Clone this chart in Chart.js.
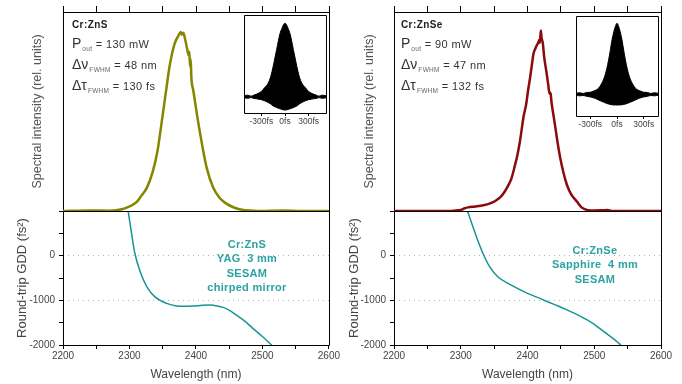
<!DOCTYPE html>
<html>
<head>
<meta charset="utf-8">
<script src="https://cdn.jsdelivr.net/npm/chart.js@4.4.0/dist/chart.umd.min.js"></script>
<style>
  body { margin: 0; background: #fff; }
  #fig { position: relative; width: 682px; height: 384px; overflow: hidden;
         font-family: "Liberation Sans", Arial, sans-serif; }
  canvas { position: absolute; }
  .tag { position: absolute; font-size: 10px; line-height: 10px; font-weight: bold; color: #222; letter-spacing: 0.4px; z-index: 5; }
  .row { position: absolute; font-size: 14px; line-height: 14px; color: #333; white-space: nowrap; z-index: 5; }
  .row .big { font-size: 14px; }
  .row .sub { font-size: 6.5px; position: relative; top: 3px; margin-left: 1px; color: #666; letter-spacing: 0.3px; }
  .row .val { font-size: 11px; letter-spacing: 0.4px; }
  .gdd { position: absolute; transform: translateX(-50%); text-align: center; white-space: nowrap;
         font-size: 11px; font-weight: bold; line-height: 14.3px; color: #2ba3a3; letter-spacing: 0.3px; z-index: 5; }
</style>
</head>
<body>
<div id="fig">
  <canvas id="gdd-zns" width="341" height="184" style="left:0;top:200px;z-index:1"></canvas>
  <canvas id="spec-zns" width="341" height="215" style="left:0;top:0;z-index:2"></canvas>
  <canvas id="ac-zns" width="94" height="124" style="left:238px;top:10px;z-index:3"></canvas>

  <canvas id="gdd-znse" width="341" height="184" style="left:341px;top:200px;z-index:1"></canvas>
  <canvas id="spec-znse" width="341" height="215" style="left:341px;top:0;z-index:2"></canvas>
  <canvas id="ac-znse" width="94" height="127" style="left:570px;top:10px;z-index:3"></canvas>

  <div class="tag" style="left:72px;top:20px">Cr:ZnS</div>
  <div class="row" style="left:72px;top:36px"><span class="big">P</span><span class="sub">out</span><span class="val"> = 130 mW</span></div>
  <div class="row" style="left:72px;top:57px"><span class="big">&Delta;&nu;</span><span class="sub">FWHM</span><span class="val"> = 48 nm</span></div>
  <div class="row" style="left:72px;top:78px"><span class="big">&Delta;&tau;</span><span class="sub">FWHM</span><span class="val"> = 130 fs</span></div>
  <div class="gdd" style="left:247px;top:237px">Cr:ZnS<br>YAG&nbsp; 3 mm<br>SESAM<br>chirped mirror</div>

  <div class="tag" style="left:401px;top:20px">Cr:ZnSe</div>
  <div class="row" style="left:401px;top:36px"><span class="big">P</span><span class="sub">out</span><span class="val"> = 90 mW</span></div>
  <div class="row" style="left:401px;top:57px"><span class="big">&Delta;&nu;</span><span class="sub">FWHM</span><span class="val"> = 47 nm</span></div>
  <div class="row" style="left:401px;top:78px"><span class="big">&Delta;&tau;</span><span class="sub">FWHM</span><span class="val"> = 132 fs</span></div>
  <div class="gdd" style="left:595px;top:243px">Cr:ZnSe<br>Sapphire&nbsp; 4 mm<br>SESAM</div>
</div>
<script>
// emission spectra, normalised intensity
const wavelengthZnS = [2200, 2240, 2270, 2290, 2300, 2311, 2318, 2326, 2335, 2342, 2348, 2355, 2361, 2368, 2373, 2377, 2379, 2381, 2384, 2387, 2389, 2390, 2391, 2392, 2393, 2396, 2402, 2409, 2416, 2426, 2435, 2444, 2458, 2471, 2485, 2496, 2530, 2560, 2600];
const intensityZnS = [0, 0.003, 0.002, 0.011, 0.025, 0.05, 0.085, 0.128, 0.218, 0.33, 0.48, 0.665, 0.815, 0.927, 0.965, 0.99, 0.975, 0.985, 0.944, 0.89, 0.86, 0.88, 0.8, 0.84, 0.74, 0.665, 0.52, 0.37, 0.24, 0.128, 0.075, 0.045, 0.018, 0.006, 0.002, 0, 0.003, 0, 0];

const wavelengthZnSe = [2200, 2265, 2290, 2300, 2306, 2311, 2322, 2334, 2344, 2351, 2359, 2366, 2371, 2376, 2380, 2384, 2388, 2391, 2394, 2398, 2401, 2404, 2407, 2409, 2412, 2414, 2416, 2417.5, 2418.5, 2420, 2421, 2423, 2425, 2428, 2431, 2433, 2434, 2435, 2436, 2438, 2441, 2445, 2449, 2454, 2459, 2465, 2474, 2481, 2489, 2500, 2512, 2520, 2526, 2600];
const intensityZnSe = [0, 0, 0.002, 0.006, 0.015, 0.02, 0.025, 0.032, 0.042, 0.054, 0.075, 0.108, 0.14, 0.18, 0.235, 0.294, 0.37, 0.443, 0.52, 0.59, 0.67, 0.74, 0.82, 0.87, 0.9, 0.917, 0.93, 0.945, 0.93, 0.998, 0.96, 0.927, 0.85, 0.778, 0.7, 0.648, 0.655, 0.64, 0.6, 0.55, 0.48, 0.38, 0.294, 0.21, 0.145, 0.095, 0.052, 0.02, 0.006, 0.003, 0.004, 0.005, 0, 0];

// round-trip GDD of the cavity, fs^2
const gddWavelengthZnS = [2298, 2303, 2308, 2316, 2326, 2338, 2356, 2371, 2385, 2396, 2410, 2421, 2432, 2441, 2451, 2461, 2474, 2486, 2500, 2514];
const gddZnS = [1000, 512, 60, -354, -692, -918, -1068, -1125, -1135, -1128, -1112, -1106, -1125, -1158, -1230, -1332, -1470, -1632, -1810, -2002];

const gddWavelengthZnSe = [2310, 2318, 2325, 2333, 2343, 2355, 2375, 2400, 2415, 2430, 2445, 2460, 2475, 2490, 2503, 2515, 2528, 2540];
const gddZnSe = [1000, 661, 361, 60, -241, -467, -655, -843, -935, -1031, -1120, -1219, -1325, -1445, -1570, -1708, -1850, -2002];

// interferometric autocorrelation envelopes (background = 1)
const delayZnS = [-520, -470, -430, -405, -360, -300, -260, -213, -180, -150, -128, -106, -85, -64, -40, -20, 0, 20, 40, 64, 85, 106, 128, 150, 180, 213, 260, 300, 360, 405, 430, 470, 520];
const acUpperZnS = [1.1, 1.15, 1.05, 1.12, 1.25, 1.5, 1.85, 2.3, 2.95, 3.9, 4.7, 5.5, 6.3, 7.0, 7.5, 7.85, 8.0, 7.85, 7.5, 7.0, 6.3, 5.5, 4.7, 3.9, 2.95, 2.3, 1.85, 1.5, 1.25, 1.12, 1.05, 1.15, 1.1];
const acLowerZnS = [0.9, 0.85, 0.92, 0.86, 0.8, 0.72, 0.62, 0.45, 0.3, 0.12, 0.04, -0.03, -0.1, -0.15, -0.21, -0.25, -0.27, -0.25, -0.21, -0.15, -0.1, -0.03, 0.04, 0.12, 0.3, 0.45, 0.62, 0.72, 0.8, 0.86, 0.92, 0.85, 0.9];

const delayZnSe = [-460, -420, -380, -340, -300, -281, -240, -207, -170, -139, -115, -94, -75, -56, -35, -18, 0, 18, 35, 56, 75, 94, 115, 139, 170, 207, 240, 281, 300, 340, 380, 420, 460];
const acUpperZnSe = [1.1, 1.15, 1.08, 1.18, 1.2, 1.26, 1.4, 1.6, 2.1, 2.75, 3.5, 4.4, 5.35, 6.35, 7.2, 7.7, 8.0, 7.7, 7.2, 6.35, 5.35, 4.4, 3.5, 2.75, 2.1, 1.6, 1.4, 1.26, 1.2, 1.18, 1.08, 1.15, 1.1];
const acLowerZnSe = [0.9, 0.85, 0.88, 0.8, 0.74, 0.7, 0.58, 0.44, 0.3, 0.18, 0.1, 0.04, 0.0, -0.03, -0.05, -0.05, -0.05, -0.05, -0.05, -0.03, 0.0, 0.04, 0.1, 0.18, 0.3, 0.44, 0.58, 0.7, 0.74, 0.8, 0.88, 0.85, 0.9];

// labelled ticks
const wavelengthTicks = [2200, 2300, 2400, 2500, 2600];
const gddTicks = [0, -1000, -2000];
const delayTicks = [-300, 0, 300];

Chart.defaults.font.family = '"Liberation Sans", Arial, sans-serif';
Chart.defaults.color = '#444';

// box around the plot area, drawn under the curves
const frame = {
    id: 'frame',
    defaults: { rise: 0 },
    beforeDatasetsDraw(chart, args, opts) {
        const {ctx, chartArea} = chart;
        const l = Math.round(chartArea.left) + 0.5;
        const t = Math.round(chartArea.top) + 0.5;
        const r = Math.round(chartArea.right) + 0.5;
        const b = Math.round(chartArea.bottom) + 0.5;
        ctx.save();
        ctx.strokeStyle = '#000';
        ctx.lineWidth = 1;
        ctx.beginPath();
        ctx.moveTo(l, t - opts.rise);
        ctx.lineTo(l, b);
        ctx.lineTo(r, b);
        ctx.lineTo(r, t - opts.rise);
        ctx.moveTo(l, t);
        ctx.lineTo(r, t);
        ctx.stroke();
        ctx.restore();
    }
};

const common = {
    responsive: false,
    animation: false,
    events: [],
};

const points = (xs, ys) => xs.map((x, i) => ({x: x, y: ys[i]}));

function spectrumChart(id, wl, inten, color, axisWidth, titleGap, padRight) {
    new Chart(document.getElementById(id), {
        type: 'line',
        data: {
            datasets: [{
                data: points(wl, inten),
                borderColor: color,
                borderWidth: 2.5,
                pointRadius: 0,
                cubicInterpolationMode: 'monotone'
            }]
        },
        options: {
            ...common,
            layout: { padding: { top: 6, right: padRight, bottom: 4, left: 0 } },
            plugins: { legend: { display: false }, tooltip: { enabled: false }, frame: { rise: 6 } },
            scales: {
                x: {
                    type: 'linear', position: 'top', min: 2200, max: 2600,
                    ticks: { display: false, stepSize: 50 },
                    grid: { drawOnChartArea: false, tickLength: 6, color: '#000' },
                    border: { display: false },
                    afterFit: s => { s.height = 6; }
                },
                y: {
                    min: 0, max: 1.1,
                    ticks: { display: false },
                    grid: { display: false },
                    border: { display: false },
                    title: {
                        display: true, text: 'Spectral intensity (rel. units)',
                        font: { size: 12.5 }, color: '#555',
                        padding: { top: titleGap, bottom: 0 }
                    },
                    afterFit: s => { s.width = axisWidth; }
                }
            }
        },
        plugins: [frame]
    });
}

function gddChart(id, wl, gdd, axisWidth, titleGap, padRight) {
    new Chart(document.getElementById(id), {
        type: 'line',
        data: {
            datasets: [{
                data: points(wl, gdd),
                borderColor: '#179494',
                borderWidth: 1.5,
                pointRadius: 0,
                cubicInterpolationMode: 'monotone'
            }]
        },
        options: {
            ...common,
            layout: { padding: { top: 11, right: padRight, bottom: 0, left: 0 } },
            plugins: { legend: { display: false }, tooltip: { enabled: false } },
            scales: {
                x: {
                    type: 'linear', min: 2200, max: 2600,
                    ticks: {
                        stepSize: 50, autoSkip: false, maxRotation: 0, padding: 1,
                        font: { size: 10 }, color: '#444',
                        callback: v => wavelengthTicks.includes(v) ? String(v) : ''
                    },
                    grid: { drawOnChartArea: false, tickLength: 4, color: '#000' },
                    border: { display: false },
                    title: {
                        display: true, text: 'Wavelength (nm)',
                        font: { size: 12 }, color: '#444',
                        padding: { top: 0, bottom: 2 }
                    },
                    afterFit: s => { s.height = 39; }
                },
                y: {
                    min: -2000, max: 1000,
                    ticks: {
                        stepSize: 500, autoSkip: false, padding: 4,
                        font: { size: 10 }, color: '#444',
                        callback: v => gddTicks.includes(v) ? String(v) : ''
                    },
                    grid: {
                        color: c => (c.tick && (c.tick.value === 0 || c.tick.value === -1000)) ? '#b4b4b4' : 'rgba(0,0,0,0)',
                        tickColor: '#000', tickLength: 4
                    },
                    border: { display: false, dash: [1, 4] },
                    title: {
                        display: true, text: 'Round-trip GDD (fs²)',
                        font: { size: 13 }, color: '#444',
                        padding: { top: titleGap, bottom: 0 }
                    },
                    afterFit: s => { s.width = axisWidth; }
                }
            }
        },
        plugins: [frame]
    });
}

function autocorrChart(id, delay, upper, lower, span, yMin, yMax, padTop) {
    new Chart(document.getElementById(id), {
        type: 'line',
        data: {
            datasets: [
                {
                    data: points(delay, upper),
                    borderColor: '#000', backgroundColor: '#000',
                    borderWidth: 1, pointRadius: 0, fill: '+1',
                    cubicInterpolationMode: 'monotone'
                },
                {
                    data: points(delay, lower),
                    borderColor: '#000',
                    borderWidth: 1, pointRadius: 0, fill: false,
                    cubicInterpolationMode: 'monotone'
                }
            ]
        },
        options: {
            ...common,
            layout: { padding: { top: padTop, right: 6, bottom: 0, left: 6 } },
            plugins: { legend: { display: false }, tooltip: { enabled: false } },
            scales: {
                x: {
                    type: 'linear', min: -span, max: span,
                    afterBuildTicks: s => { s.ticks = delayTicks.map(v => ({value: v})); },
                    ticks: {
                        autoSkip: false, maxRotation: 0, padding: 1,
                        font: { size: 8.5 }, color: '#444',
                        callback: v => v + 'fs'
                    },
                    grid: { drawOnChartArea: false, tickLength: 3, color: '#000' },
                    border: { display: false },
                    afterFit: s => { s.height = 21; }
                },
                y: { display: false, min: yMin, max: yMax }
            }
        },
        plugins: [frame]
    });
}

document.addEventListener('DOMContentLoaded', () => {
    gddChart('gdd-zns', gddWavelengthZnS, gddZnS, 63, 15, 12);
    spectrumChart('spec-zns', wavelengthZnS, intensityZnS, '#858500', 63, 30, 12);
    autocorrChart('ac-zns', delayZnS, acUpperZnS, acLowerZnS, 520, -0.55, 8.79, 5);

    gddChart('gdd-znse', gddWavelengthZnSe, gddZnSe, 53, 5.5, 21);
    spectrumChart('spec-znse', wavelengthZnSe, intensityZnSe, '#8c0a0a', 53, 21, 21);
    autocorrChart('ac-znse', delayZnSe, acUpperZnSe, acLowerZnSe, 460, -1.14, 8.72, 6);
});
</script>
</body>
</html>
